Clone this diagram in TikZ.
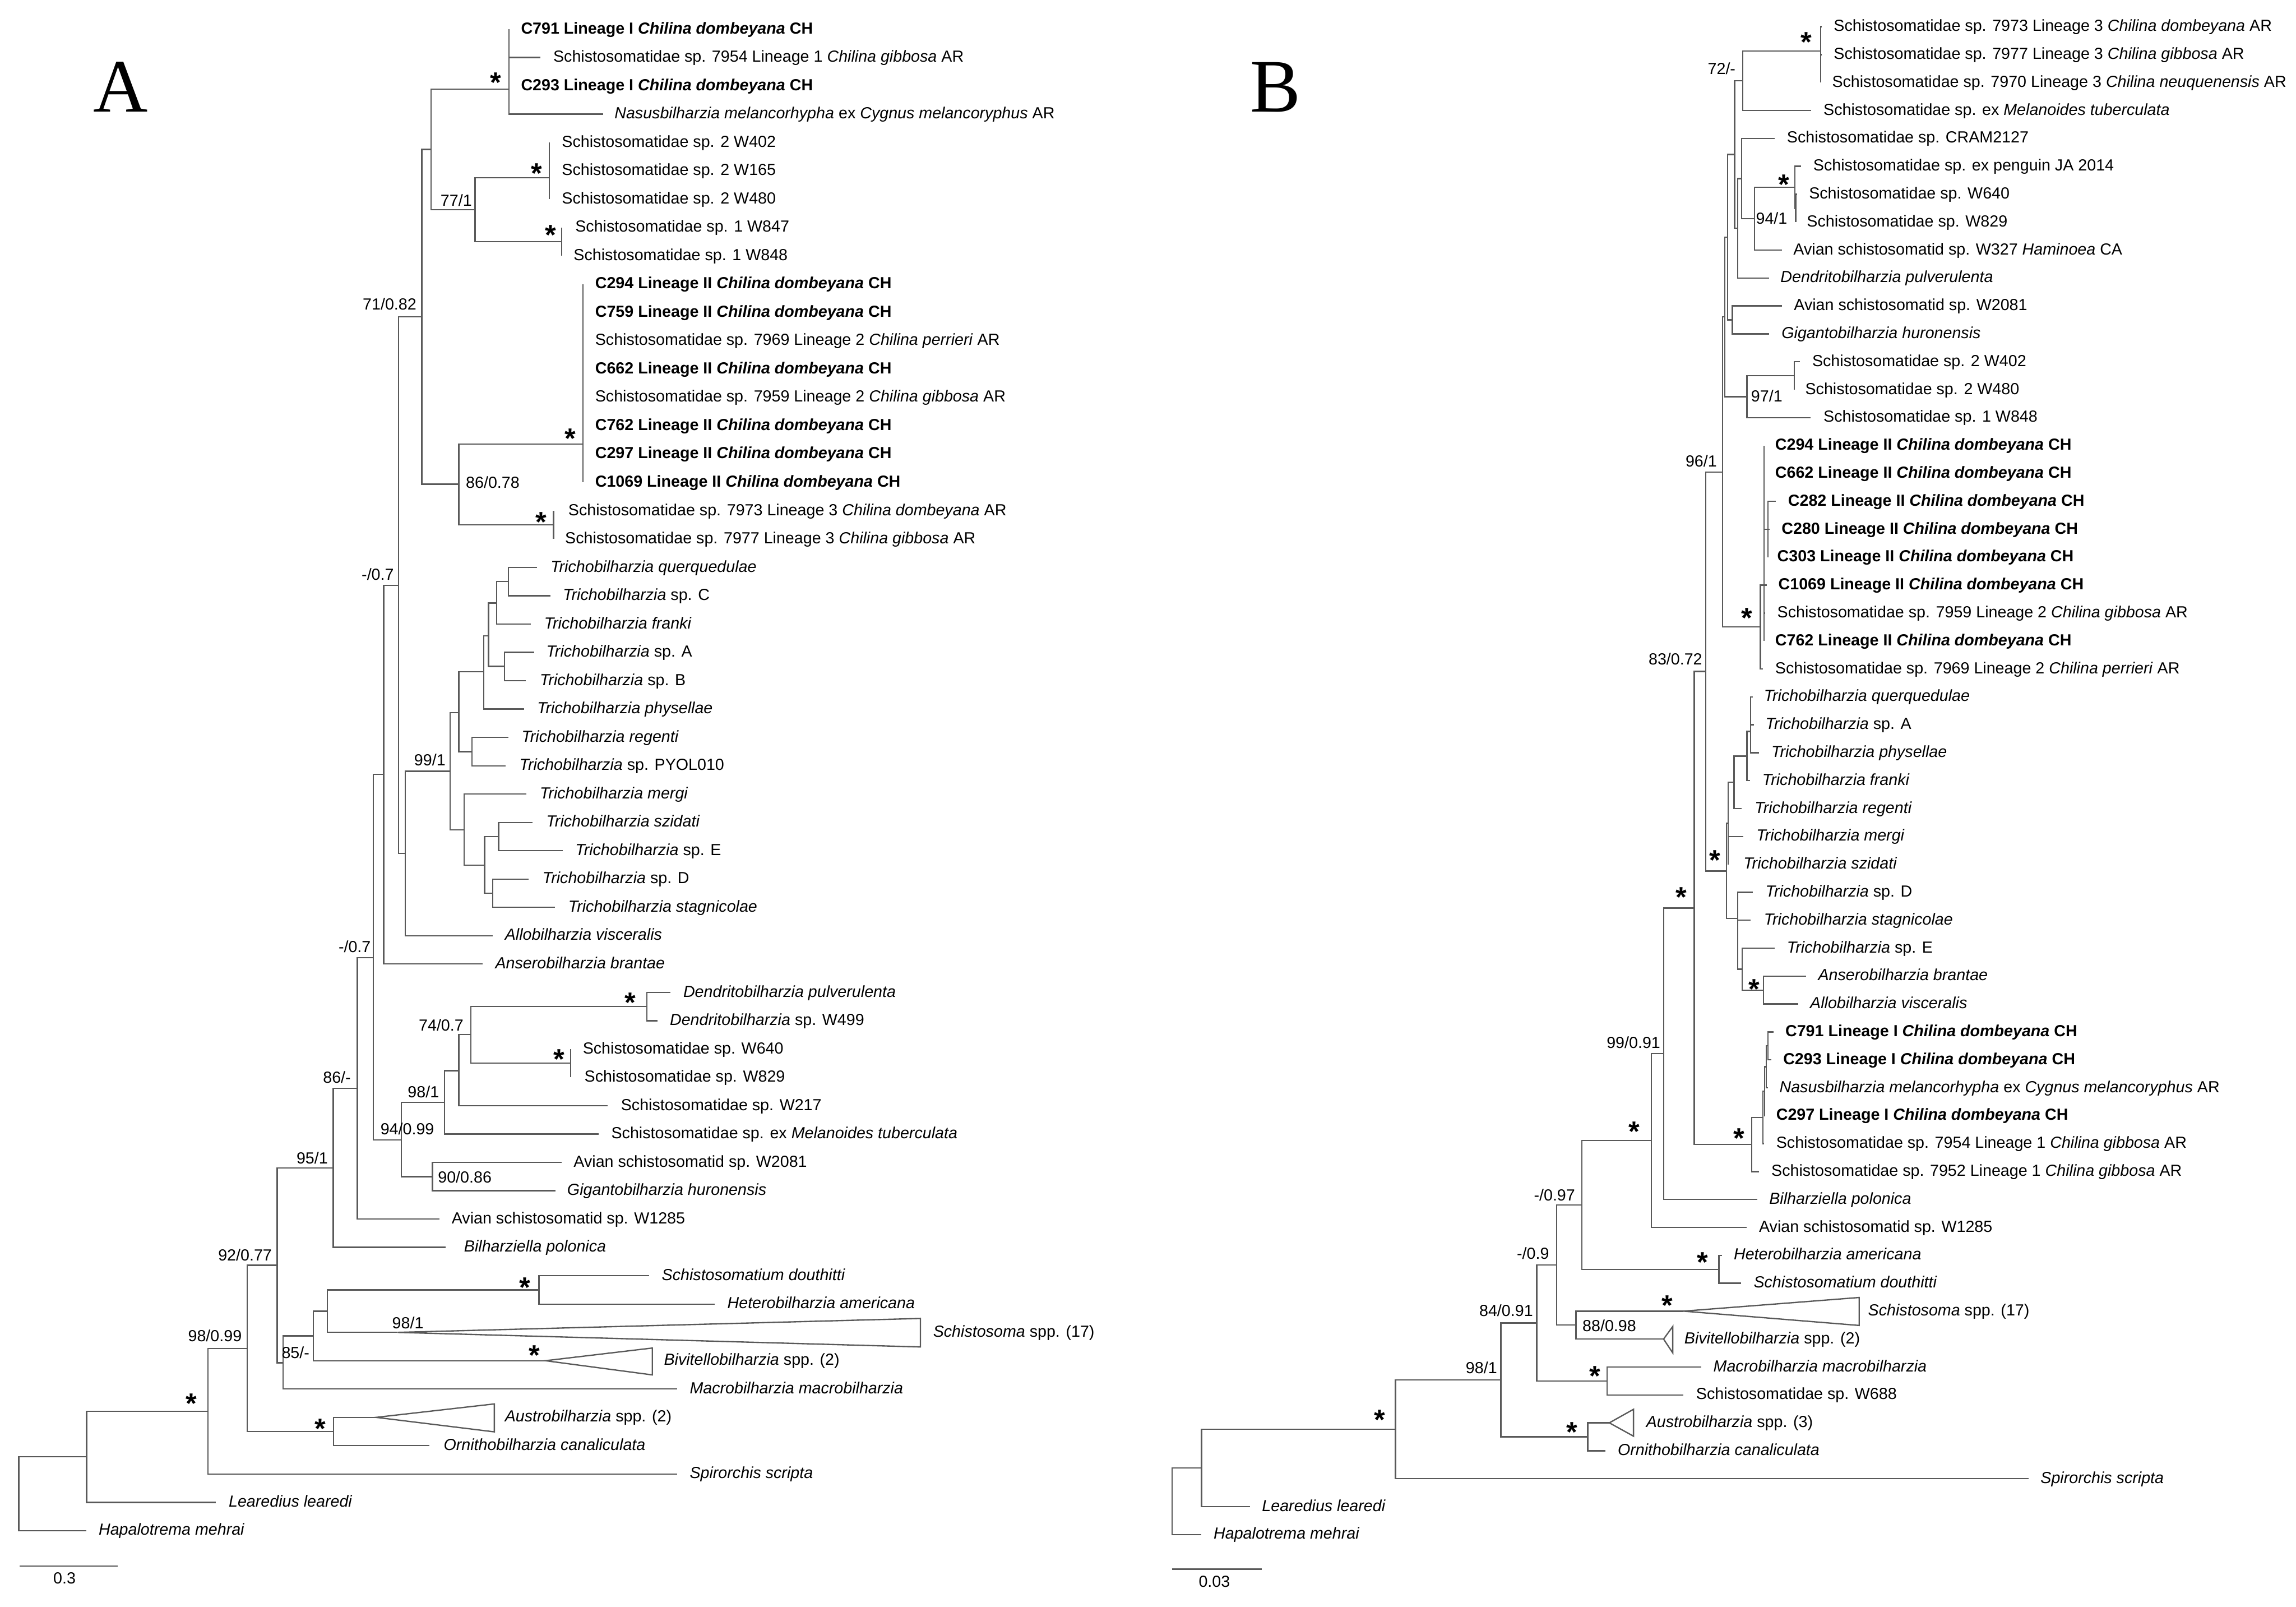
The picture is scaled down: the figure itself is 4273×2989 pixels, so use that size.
\documentclass[tikz,border=0pt]{standalone}
\usepackage{fontspec}
\setmainfont{Liberation Sans}
\newfontfamily\serifA{Liberation Serif}
\newcommand\lf[5]{\coordinate (#1) at (#2,#3); \node[leaf] (#1l) at (#4,#3) {#5};}
\newcommand\tri[8]{\coordinate (#1) at (#2,#3); \draw[branch] (#1) -- (#4,#5) -- (#4,#6) -- cycle; \node[leaf] (#1l) at (#7,#3) {#8};}
\newcommand\Ld[1]{\textbf{#1 \textit{Chilina dombeyana} CH}}
\begin{document}
\begin{tikzpicture}[x=0.01cm,y=-0.01cm,
  branch/.style={draw=black!65, line width=0.7pt},
  leaf/.style={anchor=west, inner sep=0pt, font=\fontsize{8.5}{10}\selectfont, text height=6.4pt, text depth=1.6pt},
  sup/.style={inner sep=0pt, font=\fontsize{8.5}{10}\selectfont},
  star/.style={inner sep=0pt, font=\fontsize{15}{15}\selectfont\bfseries, yshift=-3.2pt},
  panel/.style={inner sep=0pt, font=\serifA\fontsize{40}{40}\selectfont}]
\useasboundingbox (0,0) rectangle (4273,2989);
\node[panel] (pA) at (224,162) {A};
\node[panel] (pB) at (2374,162) {B};
% ================= PANEL A =================
\lf{a1}{947}{54.2}{969}{\Ld{C791 Lineage I}}
\lf{a2}{1006}{106.9}{1029}{Schistosomatidae sp. 7954 Lineage 1 \textit{Chilina gibbosa} AR}
\lf{a3}{947}{159.6}{969}{\Ld{C293 Lineage I}}
\lf{a4}{1122}{212.3}{1143}{\textit{Nasusbilharzia melancorhypha} ex \textit{Cygnus melancoryphus} AR}
\lf{a5}{1022}{265.0}{1045}{Schistosomatidae sp. 2 W402}
\lf{a6}{1022}{317.8}{1045}{Schistosomatidae sp. 2 W165}
\lf{a7}{1022}{370.5}{1045}{Schistosomatidae sp. 2 W480}
\lf{a8}{1045}{423.2}{1070}{Schistosomatidae sp. 1 W847}
\lf{a9}{1045}{475.9}{1067}{Schistosomatidae sp. 1 W848}
\lf{a10}{1085}{528.6}{1107}{\Ld{C294 Lineage II}}
\lf{a11}{1085}{581.3}{1107}{\Ld{C759 Lineage II}}
\lf{a12}{1085}{634.0}{1107}{Schistosomatidae sp. 7969 Lineage 2 \textit{Chilina perrieri} AR}
\lf{a13}{1085}{686.7}{1107}{\Ld{C662 Lineage II}}
\lf{a14}{1085}{739.4}{1107}{Schistosomatidae sp. 7959 Lineage 2 \textit{Chilina gibbosa} AR}
\lf{a15}{1085}{792.1}{1107}{\Ld{C762 Lineage II}}
\lf{a16}{1085}{844.9}{1107}{\Ld{C297 Lineage II}}
\lf{a17}{1085}{897.6}{1107}{\Ld{C1069 Lineage II}}
\lf{a18}{1030}{950.3}{1057}{Schistosomatidae sp. 7973 Lineage 3 \textit{Chilina dombeyana} AR}
\lf{a19}{1030}{1003.0}{1051}{Schistosomatidae sp. 7977 Lineage 3 \textit{Chilina gibbosa} AR}
\lf{a20}{999}{1055.7}{1024}{\textit{Trichobilharzia querquedulae}}
\lf{a21}{1024.5}{1108.4}{1047}{\textit{Trichobilharzia} sp. C}
\lf{a22}{988}{1161.1}{1012}{\textit{Trichobilharzia franki}}
\lf{a23}{994}{1213.8}{1016}{\textit{Trichobilharzia} sp. A}
\lf{a24}{979}{1266.5}{1004}{\textit{Trichobilharzia} sp. B}
\lf{a25}{975}{1319.3}{999}{\textit{Trichobilharzia physellae}}
\lf{a26}{946}{1372.0}{970}{\textit{Trichobilharzia regenti}}
\lf{a27}{941}{1424.7}{966}{\textit{Trichobilharzia} sp. PYOL010}
\lf{a28}{980}{1477.4}{1004}{\textit{Trichobilharzia mergi}}
\lf{a29}{991}{1530.1}{1016}{\textit{Trichobilharzia szidati}}
\lf{a30}{1047}{1582.8}{1070}{\textit{Trichobilharzia} sp. E}
\lf{a31}{984}{1635.5}{1009}{\textit{Trichobilharzia} sp. D}
\lf{a32}{1033}{1688.2}{1057}{\textit{Trichobilharzia stagnicolae}}
\lf{a33}{917}{1740.9}{939}{\textit{Allobilharzia visceralis}}
\lf{a34}{898}{1793.6}{921}{\textit{Anserobilharzia brantae}}
\lf{a35}{1248}{1846.4}{1271}{\textit{Dendritobilharzia pulverulenta}}
\lf{a36}{1224}{1899.1}{1246}{\textit{Dendritobilharzia} sp. W499}
\lf{a37}{1062}{1951.8}{1084}{Schistosomatidae sp. W640}
\lf{a38}{1062}{2004.5}{1087}{Schistosomatidae sp. W829}
\lf{a39}{1131}{2057.2}{1155}{Schistosomatidae sp. W217}
\lf{a40}{1114}{2109.9}{1137}{Schistosomatidae sp. ex \textit{Melanoides tuberculata}}
\lf{a41}{1045}{2162.6}{1067}{Avian schistosomatid sp. W2081}
\lf{a42}{1034}{2215.3}{1055}{\textit{Gigantobilharzia huronensis}}
\lf{a43}{818}{2268.0}{840}{Avian schistosomatid sp. W1285}
\lf{a44}{829}{2320.7}{863}{\textit{Bilharziella polonica}}
\lf{a45}{1208}{2373.5}{1231}{\textit{Schistosomatium douthitti}}
\lf{a46}{1330}{2426.2}{1353}{\textit{Heterobilharzia americana}}
\tri{a47}{740}{2478.9}{1713}{2453}{2506}{1736}{\textit{Schistosoma} spp. (17)}
\tri{a48}{1015}{2531.6}{1214}{2508}{2558}{1235}{\textit{Bivitellobilharzia} spp. (2)}
\lf{a49}{1260}{2584.3}{1283}{\textit{Macrobilharzia macrobilharzia}}
\tri{a50}{700}{2637.0}{920}{2612}{2664}{939}{\textit{Austrobilharzia} spp. (2)}
\lf{a51}{799}{2689.7}{825}{\textit{Ornithobilharzia canaliculata}}
\lf{a52}{1260}{2742.4}{1283}{\textit{Spirorchis scripta}}
\lf{a53}{402}{2795.1}{425}{\textit{Learedius learedi}}
\lf{a54}{161}{2847.8}{183}{\textit{Hapalotrema mehrai}}
% internal nodes A
\coordinate (aLI) at (947,166);
\coordinate (aN802) at (802,278);
\coordinate (aS2) at (1022,331);
\coordinate (aS1) at (1045,449.5);
\coordinate (a77) at (884,390);
\coordinate (a785) at (785,589.5);
\coordinate (aL2) at (1085,826);
\coordinate (aL3) at (1030,976.6);
\coordinate (a86) at (854,901);
\coordinate (a741) at (742,1089);
\coordinate (a754) at (754,1588);
\coordinate (a99) at (837.5,1435);
\coordinate (aT1) at (854,1326);
\coordinate (aT3) at (900.6,1250);
\coordinate (aT4) at (909,1183);
\coordinate (aT5) at (924,1122);
\coordinate (aQC) at (946,1082);
\coordinate (aAB) at (939,1240);
\coordinate (aReg) at (878.6,1398.4);
\coordinate (aT2) at (864,1544);
\coordinate (aT6) at (902,1610);
\coordinate (aSzE) at (928,1556.5);
\coordinate (aDS) at (917,1662);
\coordinate (a714) at (714,1441);
\coordinate (a695) at (695,1782);
\coordinate (a665) at (665,2025);
\coordinate (a620) at (620,2173);
\coordinate (a94) at (747,2121);
\coordinate (a98) at (827,2051);
\coordinate (a854) at (854,1992);
\coordinate (a74) at (876,1925);
\coordinate (aDen) at (1204,1872.7);
\coordinate (aW640) at (1062,1978);
\coordinate (aGig) at (805,2189);
\coordinate (a516) at (516,2354);
\coordinate (a527) at (527,2535.6);
\coordinate (a583) at (583,2485.5);
\coordinate (a609) at (609,2439.5);
\coordinate (aSH) at (1003,2400);
\coordinate (a460) at (460,2509);
\coordinate (aAO) at (621,2663.3);
\coordinate (a387) at (387,2626);
\coordinate (a161) at (161,2710.5);
\coordinate (aRoot) at (35,2779);
\foreach \p/\c in {aLI/a1,aLI/a2,aLI/a3,aLI/a4, aN802/aLI,aN802/a77, a77/aS2,a77/aS1,
  aS2/a5,aS2/a6,aS2/a7, aS1/a8,aS1/a9, a785/aN802,a785/a86, a86/aL2,a86/aL3,
  aL2/a10,aL2/a11,aL2/a12,aL2/a13,aL2/a14,aL2/a15,aL2/a16,aL2/a17, aL3/a18,aL3/a19,
  a741/a785,a741/a754, a754/a99,a754/a33, a99/aT1,a99/aT2, aT1/aT3,aT1/aReg,
  aT3/aT4,aT3/a25, aT4/aT5,aT4/aAB, aT5/aQC,aT5/a22, aQC/a20,aQC/a21, aAB/a23,aAB/a24,
  aReg/a26,aReg/a27, aT2/a28,aT2/aT6, aT6/aSzE,aT6/aDS, aSzE/a29,aSzE/a30, aDS/a31,aDS/a32,
  a714/a741,a714/a34, a695/a714,a695/a94, a665/a695,a665/a43, a620/a665,a620/a44,
  a94/a98,a94/aGig, a98/a854,a98/a40, a854/a74,a854/a39, a74/aDen,a74/aW640,
  aDen/a35,aDen/a36, aW640/a37,aW640/a38, aGig/a41,aGig/a42, a516/a620,a516/a527,
  a527/a583,a527/a49, a583/a609,a583/a48, a609/aSH,a609/a47, aSH/a45,aSH/a46,
  a460/a516,a460/aAO, aAO/a50,aAO/a51, a387/a460,a387/a52, a161/a387,a161/a53,
  aRoot/a161,aRoot/a54}
  \draw[branch] (\p) |- (\c);
% support values A
\node[star] (sa1) at (923,142) {*};
\node[sup] (sa2) at (849,373) {77/1};
\node[star] (sa3) at (999,311) {*};
\node[star] (sa4) at (1025,426) {*};
\node[sup] (sa5) at (725,566) {71/0.82};
\node[star] (sa6) at (1061,805) {*};
\node[sup] (sa7) at (917,897) {86/0.78};
\node[star] (sa8) at (1007,960) {*};
\node[sup] (sa9) at (703,1068) {-/0.7};
\node[sup] (sa10) at (800,1414) {99/1};
\node[sup] (sa11) at (660,1761) {-/0.7};
\node[star] (sa12) at (1173,1854) {*};
\node[sup] (sa13) at (821,1907) {74/0.7};
\node[star] (sa14) at (1040,1959) {*};
\node[sup] (sa15) at (627,2004) {86/-};
\node[sup] (sa16) at (788,2031) {98/1};
\node[sup] (sa17) at (758,2100) {94/0.99};
\node[sup] (sa18) at (581,2155) {95/1};
\node[sup] (sa19) at (865,2190) {90/0.86};
\node[sup] (sa20) at (456,2335) {92/0.77};
\node[star] (sa21) at (977,2384) {*};
\node[sup] (sa22) at (759,2461) {98/1};
\node[sup] (sa23) at (400,2485) {98/0.99};
\node[star] (sa24) at (995,2510) {*};
\node[sup] (sa25) at (550,2517) {85/-};
\node[star] (sa26) at (356,2600) {*};
\node[star] (sa27) at (596,2647) {*};
% scale bar A
\coordinate (sbA1) at (37,2914); \coordinate (sbA2) at (219,2914);
\draw[branch] (sbA1) -- (sbA2);
\node[sup] (sbAl) at (120,2936) {0.3};
% ================= PANEL B =================
\lf{b1}{3390}{49.7}{3412}{Schistosomatidae sp. 7973 Lineage 3 \textit{Chilina dombeyana} AR}
\lf{b2}{3390}{101.65}{3412}{Schistosomatidae sp. 7977 Lineage 3 \textit{Chilina gibbosa} AR}
\lf{b3}{3388}{153.6}{3409}{Schistosomatidae sp. 7970 Lineage 3 \textit{Chilina neuquenensis} AR}
\lf{b4}{3371}{205.55}{3393}{Schistosomatidae sp. ex \textit{Melanoides tuberculata}}
\lf{b5}{3303}{257.5}{3325}{Schistosomatidae sp. CRAM2127}
\lf{b6}{3352}{309.45}{3374}{Schistosomatidae sp. ex penguin JA 2014}
\lf{b7}{3344}{361.4}{3366}{Schistosomatidae sp. W640}
\lf{b8}{3342}{413.35}{3362}{Schistosomatidae sp. W829}
\lf{b9}{3316}{465.3}{3337}{Avian schistosomatid sp. W327 \textit{Haminoea} CA}
\lf{b10}{3292}{517.25}{3313}{\textit{Dendritobilharzia pulverulenta}}
\lf{b11}{3316}{569.2}{3338}{Avian schistosomatid sp. W2081}
\lf{b12}{3292}{621.15}{3315}{\textit{Gigantobilharzia huronensis}}
\lf{b13}{3350}{673.1}{3372}{Schistosomatidae sp. 2 W402}
\lf{b14}{3339}{725.05}{3359}{Schistosomatidae sp. 2 W480}
\lf{b15}{3370}{777.0}{3393}{Schistosomatidae sp. 1 W848}
\lf{b16}{3283}{828.95}{3303}{\Ld{C294 Lineage II}}
\lf{b17}{3283}{880.9}{3303}{\Ld{C662 Lineage II}}
\lf{b18}{3305}{932.85}{3327}{\Ld{C282 Lineage II}}
\lf{b19}{3293}{984.8}{3315}{\Ld{C280 Lineage II}}
\lf{b20}{3290}{1036.75}{3307}{\Ld{C303 Lineage II}}
\lf{b21}{3288}{1088.7}{3309}{\Ld{C1069 Lineage II}}
\lf{b22}{3285}{1140.65}{3307}{Schistosomatidae sp. 7959 Lineage 2 \textit{Chilina gibbosa} AR}
\lf{b23}{3283}{1192.6}{3303}{\Ld{C762 Lineage II}}
\lf{b24}{3281}{1244.55}{3303}{Schistosomatidae sp. 7969 Lineage 2 \textit{Chilina perrieri} AR}
\lf{b25}{3262}{1296.5}{3282}{\textit{Trichobilharzia querquedulae}}
\lf{b26}{3264}{1348.45}{3285}{\textit{Trichobilharzia} sp. A}
\lf{b27}{3274}{1400.4}{3296}{\textit{Trichobilharzia physellae}}
\lf{b28}{3257}{1452.35}{3279}{\textit{Trichobilharzia franki}}
\lf{b29}{3241}{1504.3}{3265}{\textit{Trichobilharzia regenti}}
\lf{b30}{3244}{1556.25}{3268}{\textit{Trichobilharzia mergi}}
\lf{b31}{3216}{1608.2}{3244}{\textit{Trichobilharzia szidati}}
\lf{b32}{3262}{1660.15}{3285}{\textit{Trichobilharzia} sp. D}
\lf{b33}{3258}{1712.1}{3282}{\textit{Trichobilharzia stagnicolae}}
\lf{b34}{3303}{1764.05}{3325}{\textit{Trichobilharzia} sp. E}
\lf{b35}{3361}{1816.0}{3383}{\textit{Anserobilharzia brantae}}
\lf{b36}{3347}{1867.95}{3368}{\textit{Allobilharzia visceralis}}
\lf{b37}{3301}{1919.9}{3322}{\Ld{C791 Lineage I}}
\lf{b38}{3297}{1971.85}{3318}{\Ld{C293 Lineage I}}
\lf{b39}{3290}{2023.8}{3311}{\textit{Nasusbilharzia melancorhypha} ex \textit{Cygnus melancoryphus} AR}
\lf{b40}{3285}{2075.75}{3305}{\Ld{C297 Lineage I}}
\lf{b41}{3283}{2127.7}{3305}{Schistosomatidae sp. 7954 Lineage 1 \textit{Chilina gibbosa} AR}
\lf{b42}{3274}{2179.65}{3296}{Schistosomatidae sp. 7952 Lineage 1 \textit{Chilina gibbosa} AR}
\lf{b43}{3270}{2231.6}{3292}{\textit{Bilharziella polonica}}
\lf{b44}{3251}{2283.55}{3273}{Avian schistosomatid sp. W1285}
\lf{b45}{3205}{2335.5}{3226}{\textit{Heterobilharzia americana}}
\lf{b46}{3240}{2387.45}{3263}{\textit{Schistosomatium douthitti}}
\tri{b47}{3133}{2439.4}{3460}{2414}{2466}{3476}{\textit{Schistosoma} spp. (17)}
\tri{b48}{3096}{2491.35}{3113}{2468}{2517}{3134}{\textit{Bivitellobilharzia} spp. (2)}
\lf{b49}{3166}{2543.3}{3188}{\textit{Macrobilharzia macrobilharzia}}
\lf{b50}{3133}{2595.25}{3156}{Schistosomatidae sp. W688}
\tri{b51}{2995}{2647.2}{3040}{2622}{2672}{3063}{\textit{Austrobilharzia} spp. (3)}
\lf{b52}{2988}{2699.15}{3010}{\textit{Ornithobilharzia canaliculata}}
\lf{b53}{3775}{2751.1}{3797}{\textit{Spirorchis scripta}}
\lf{b54}{2326}{2803.05}{2348}{\textit{Learedius learedi}}
\lf{b55}{2236}{2855.0}{2258}{\textit{Hapalotrema mehrai}}
% internal nodes B
\coordinate (bL3) at (3388,95);
\coordinate (b72) at (3243,150);
\coordinate (bPi) at (3342,387.4);
\coordinate (bPg) at (3340,348.4);
\coordinate (b94) at (3265,406.9);
\coordinate (bCR) at (3241,332.2);
\coordinate (bDe) at (3234,424.7);
\coordinate (bU1) at (3228,287.4);
\coordinate (bGW) at (3224,595.2);
\coordinate (bU2) at (3215,441.3);
\coordinate (bW4) at (3339,699.1);
\coordinate (b97) at (3251,738);
\coordinate (bU3) at (3210,589.7);
\coordinate (bLc) at (3290,984.8);
\coordinate (bLb) at (3283,1088.7);
\coordinate (bL2) at (3276,1166.6);
\coordinate (b96) at (3206,878.2);
\coordinate (bQAP) at (3258,1361);
\coordinate (bFr) at (3251,1406.7);
\coordinate (bRg) at (3227,1455.5);
\coordinate (bMS) at (3216,1531.9);
\coordinate (bAA) at (3282,1842);
\coordinate (bE) at (3242,1803);
\coordinate (bDSt) at (3234,1709);
\coordinate (bTr) at (3213,1620.5);
\coordinate (b83) at (3174.5,1249.3);
\coordinate (bn1) at (3290,1945.9);
\coordinate (bn2) at (3287,1984.8);
\coordinate (bn3) at (3284,2030.3);
\coordinate (bn4) at (3281,2079);
\coordinate (bLI) at (3260,2129.3);
\coordinate (bStar) at (3153,1689.3);
\coordinate (b99) at (3096,1960.5);
\coordinate (bA1) at (3073,2122);
\coordinate (bHS) at (3199,2361.5);
\coordinate (b097) at (2944,2241.8);
\coordinate (b88) at (2933,2465.4);
\coordinate (b09) at (2897,2353.6);
\coordinate (bMW) at (2991,2569.3);
\coordinate (b84) at (2860,2461.5);
\coordinate (bAO) at (2955,2673.2);
\coordinate (b98) at (2793,2567.3);
\coordinate (bSp) at (2597,2659.2);
\coordinate (bLe) at (2236,2731.1);
\coordinate (bRoot) at (2181,2793);
\foreach \p/\c in {bL3/b1,bL3/b2,bL3/b3, b72/bL3,b72/b4, bPi/b7,bPi/b8, bPg/b6,bPg/bPi,
  b94/bPg,b94/b9, bCR/b5,bCR/b94, bDe/bCR,bDe/b10, bU1/b72,bU1/bDe, bGW/b11,bGW/b12,
  bU2/bU1,bU2/bGW, bW4/b13,bW4/b14, b97/bW4,b97/b15, bU3/bU2,bU3/b97,
  bLc/b18,bLc/b19,bLc/b20, bLb/b16,bLb/b17,bLb/bLc,bLb/b21,bLb/b22,bLb/b23,
  bL2/bLb,bL2/b24, b96/bU3,b96/bL2, bQAP/b25,bQAP/b26,bQAP/b27, bFr/bQAP,bFr/b28,
  bRg/bFr,bRg/b29, bMS/bRg,bMS/b30,bMS/b31, bAA/b35,bAA/b36, bE/b34,bE/bAA,
  bDSt/b32,bDSt/b33,bDSt/bE, bTr/bMS,bTr/bDSt, b83/b96,b83/bTr,
  bn1/b37,bn1/b38, bn2/bn1,bn2/b39, bn3/bn2,bn3/b40, bn4/bn3,bn4/b41, bLI/bn4,bLI/b42,
  bStar/b83,bStar/bLI, b99/bStar,b99/b43, bA1/b99,bA1/b44, bHS/b45,bHS/b46,
  b097/bA1,b097/bHS, b88/b47,b88/b48, b09/b097,b09/b88, bMW/b49,bMW/b50,
  b84/b09,b84/bMW, bAO/b51,bAO/b52, b98/b84,b98/bAO, bSp/b98,bSp/b53,
  bLe/bSp,bLe/b54, bRoot/bLe,bRoot/b55}
  \draw[branch] (\p) |- (\c);
% support values B
\node[star] (sb1) at (3362,67) {*};
\node[sup] (sb2) at (3204,128) {72/-};
\node[star] (sb3) at (3320,332) {*};
\node[sup] (sb4) at (3297,406) {94/1};
\node[sup] (sb5) at (3288,737) {97/1};
\node[sup] (sb6) at (3166,858) {96/1};
\node[star] (sb7) at (3251,1138) {*};
\node[sup] (sb8) at (3118,1226) {83/0.72};
\node[star] (sb9) at (3191,1589) {*};
\node[star] (sb10) at (3129,1658) {*};
\node[star] (sb11) at (3265,1829) {*};
\node[sup] (sb12) at (3040,1940) {99/0.91};
\node[star] (sb13) at (3236,2107) {*};
\node[star] (sb14) at (3041,2094) {*};
\node[sup] (sb15) at (2893,2223) {-/0.97};
\node[star] (sb16) at (3169,2337.5) {*};
\node[sup] (sb17) at (2853,2332) {-/0.9};
\node[star] (sb18) at (3103,2417) {*};
\node[sup] (sb19) at (2803,2438) {84/0.91};
\node[sup] (sb20) at (2995,2466) {88/0.98};
\node[sup] (sb21) at (2757,2544.5) {98/1};
\node[star] (sb22) at (2968,2549) {*};
\node[star] (sb23) at (2925,2653.5) {*};
\node[star] (sb24) at (2568,2630.6) {*};
% scale bar B
\coordinate (sbB1) at (2181,2919.5); \coordinate (sbB2) at (2348,2919.5);
\draw[branch] (sbB1) -- (sbB2);
\node[sup] (sbBl) at (2260,2942) {0.03};
\end{tikzpicture}
\end{document}
